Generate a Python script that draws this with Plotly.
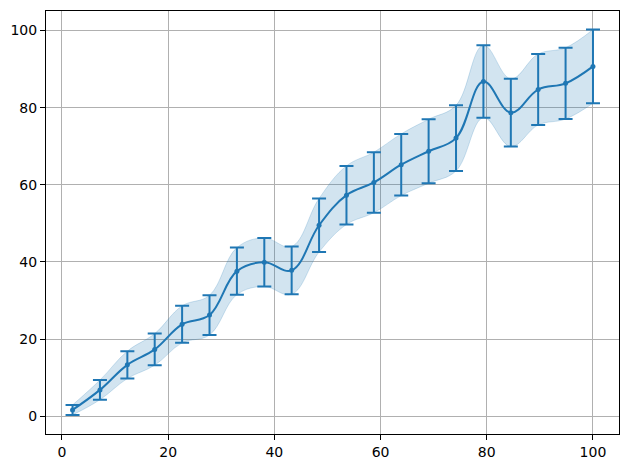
import plotly.graph_objects as go

x_vals = [2.0, 7.16, 12.32, 17.47, 22.63, 27.79, 32.95, 38.11, 43.26, 48.42,
          53.58, 58.74, 63.89, 69.05, 74.21, 79.37, 84.53, 89.68, 94.84, 100.0]
y_vals = [1.6, 6.8, 13.3, 17.3, 23.8, 26.2, 37.6, 39.9, 37.8, 49.5,
          57.3, 60.6, 65.2, 68.7, 72.1, 86.8, 78.7, 84.7, 86.3, 90.7]
y_err = [1.3, 2.55, 3.55, 4.1, 4.8, 5.15, 6.1, 6.3, 6.2, 6.95,
         7.6, 7.85, 8.0, 8.3, 8.5, 9.4, 8.8, 9.2, 9.25, 9.55]
x_ticks = [0, 20, 40, 60, 80, 100]
y_ticks = [0, 20, 40, 60, 80, 100]

blue = "#1f77b4"
band = "rgba(31,119,180,0.2)"
lower = [y - e for y, e in zip(y_vals, y_err)]
upper = [y + e for y, e in zip(y_vals, y_err)]

fig = go.Figure()
fig.add_trace(go.Scatter(x=x_vals, y=lower, mode="lines",
                         line=dict(color=band, width=1, shape="spline", smoothing=1.1),
                         showlegend=False, hoverinfo="skip"))
fig.add_trace(go.Scatter(x=x_vals, y=upper, mode="lines", fill="tonexty", fillcolor=band,
                         line=dict(color=band, width=1, shape="spline", smoothing=1.1),
                         showlegend=False, hoverinfo="skip"))
fig.add_trace(go.Scatter(x=x_vals, y=y_vals, mode="lines",
                         line=dict(color=blue, width=2, shape="spline", smoothing=1.1),
                         showlegend=False))
fig.add_trace(go.Scatter(x=x_vals, y=y_vals, mode="markers",
                         marker=dict(color=blue, size=5),
                         error_y=dict(type="data", array=y_err, visible=True,
                                      color=blue, thickness=2, width=7),
                         showlegend=False))

axis_common = dict(showline=True, linecolor="black", linewidth=1, mirror=True,
                   showgrid=True, gridcolor="#b0b0b0", gridwidth=0.8,
                   ticks="outside", ticklen=5, tickwidth=1, tickcolor="black",
                   zeroline=False,
                   tickfont=dict(family="DejaVu Sans", size=14, color="black"))

fig.update_layout(
    width=630, height=470,
    margin=dict(l=46, r=10, t=10, b=34),
    plot_bgcolor="white", paper_bgcolor="white",
    xaxis=dict(range=[-3.0, 104.9], tickvals=x_ticks, **axis_common),
    yaxis=dict(range=[-4.64, 105.07], tickvals=y_ticks, **axis_common),
    showlegend=False,
)

fig.write_html("out.html")
